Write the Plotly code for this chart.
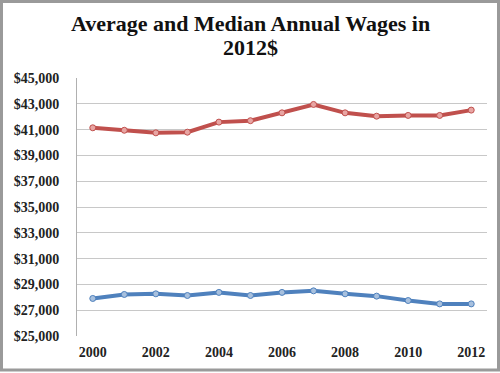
import plotly.graph_objects as go

years = ["2000", "2001", "2002", "2003", "2004", "2005", "2006", "2007", "2008", "2009", "2010", "2011", "2012"]
average_wage = [41140, 40950, 40750, 40800, 41580, 41690, 42300, 42950, 42300, 42040, 42100, 42100, 42510]
median_wage = [27910, 28220, 28270, 28140, 28380, 28140, 28380, 28500, 28270, 28090, 27750, 27490, 27490]
y_tickvals = [25000, 27000, 29000, 31000, 33000, 35000, 37000, 39000, 41000, 43000, 45000]
x_ticklabels = ["2000", "", "2002", "", "2004", "", "2006", "", "2008", "", "2010", "", "2012"]
title_lines = ["Average and Median Annual Wages in", "2012$"]

font_fam = "Liberation Serif"
L, R, T, B = 77, 13, 78, 37
W, H = 500, 373
PW, PH = W - L - R, H - T - B


def px_x(px):
    return (px - L) / PW


def px_y(py):
    return (H - B - py) / PH


fig = go.Figure()
fig.add_trace(go.Scatter(
    x=years, y=average_wage, mode="lines+markers", name="Average",
    line=dict(color="#C0504D", width=4),
    marker=dict(size=6, color="#E8A5A3", line=dict(color="#C0504D", width=1)),
))
fig.add_trace(go.Scatter(
    x=years, y=median_wage, mode="lines+markers", name="Median",
    line=dict(color="#4F81BD", width=4),
    marker=dict(size=6, color="#A7C0DE", line=dict(color="#4F81BD", width=1)),
))

annotations = []
for txt, py in zip(title_lines, [33, 57]):
    annotations.append(dict(
        text=txt, xref="paper", yref="paper", x=px_x(250), y=px_y(py),
        xanchor="center", yanchor="bottom", showarrow=False,
        font=dict(family=font_fam, size=22, color="#111111", weight="bold"),
        yshift=-5,
    ))

fig.update_layout(
    width=W, height=H,
    margin=dict(l=L, r=R, t=T, b=B),
    paper_bgcolor="white", plot_bgcolor="white",
    showlegend=False,
    font=dict(family=font_fam, color="#222222"),
    annotations=annotations,
    xaxis=dict(
        type="category", range=[-0.5, 12.5], automargin=False,
        tickmode="array", tickvals=years, ticktext=x_ticklabels,
        showgrid=False, showline=False, ticks="", ticklabelstandoff=6,
        tickfont=dict(family=font_fam, size=14, color="#222222", weight="bold"),
    ),
    yaxis=dict(
        range=[25000, 45000], tickvals=y_tickvals, automargin=False,
        tickformat="$,.0f",
        showgrid=True, gridcolor="#C8C8C8", gridwidth=1,
        showline=True, linecolor="#B0B0B0", linewidth=1,
        zeroline=False, ticks="", ticklabelstandoff=14,
        tickfont=dict(family=font_fam, size=14, color="#222222", weight="bold"),
    ),
    shapes=[dict(
        type="rect", xref="paper", yref="paper",
        x0=px_x(1.5), x1=px_x(498.5), y0=px_y(370), y1=px_y(1.5),
        line=dict(color="#9A9A9A", width=3), fillcolor="rgba(0,0,0,0)", layer="below",
    )],
)

fig.write_html(
    "out.html",
    config={"displayModeBar": False},
    post_script="document.body.style.margin='0';document.body.style.overflow='hidden';",
)
